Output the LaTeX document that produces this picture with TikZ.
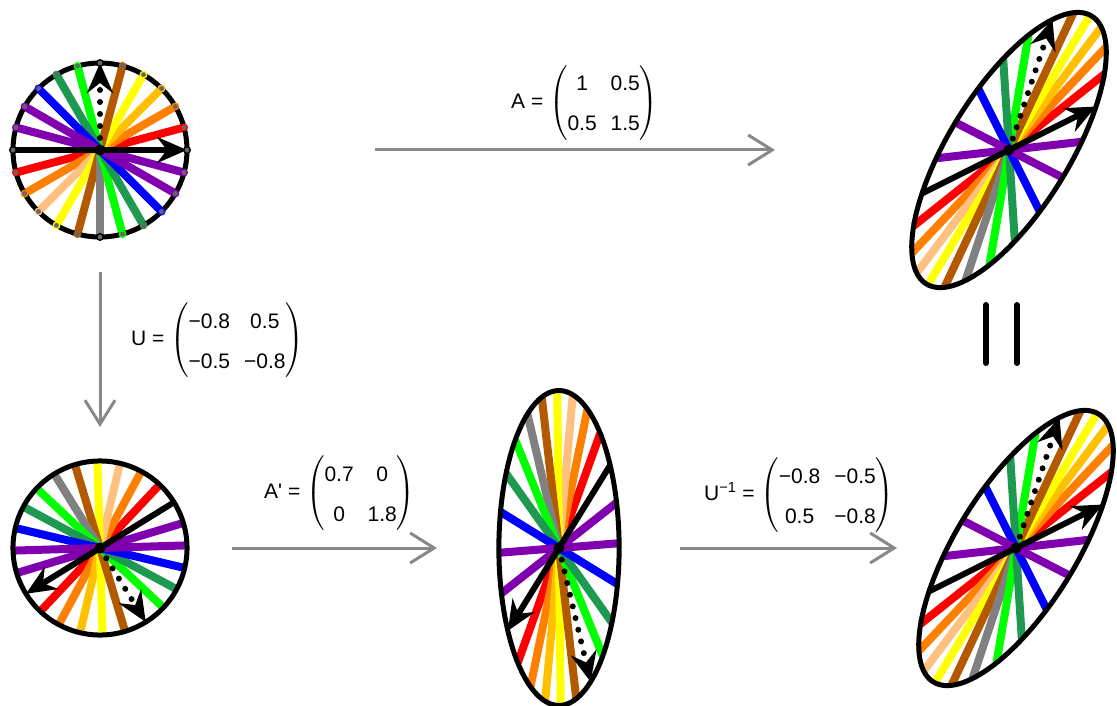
\documentclass[tikz,border=0pt]{standalone}
\usepackage{fontspec}
\setmainfont{Liberation Sans}
\usepackage{amsmath,amssymb}
\usepackage{xcolor}
\usepackage{tikz}
\usetikzlibrary{arrows.meta}
\definecolor{sred}{HTML}{FF0000}
\definecolor{sorange}{HTML}{FF7F00}
\definecolor{sgold}{HTML}{FFC000}
\definecolor{syellow}{HTML}{FFFF00}
\definecolor{sbrown}{HTML}{B35A00}
\definecolor{speach}{HTML}{FFC080}
\definecolor{sgray}{HTML}{808080}
\definecolor{slime}{HTML}{00FF00}
\definecolor{sdkgreen}{HTML}{1E9A50}
\definecolor{sblue}{HTML}{0000FF}
\definecolor{spurple}{HTML}{8000B0}
\definecolor{maparrowgray}{HTML}{888888}
\renewcommand{\arraystretch}{1.6}
\setlength{\tabcolsep}{7pt}

\begin{document}
\begin{tikzpicture}[x=1pt, y=1pt,
  every node/.style={font=\fontsize{21}{25}\selectfont, inner sep=0pt},
  maparrow/.style={maparrowgray, line width=3, -{Straight Barb[length=24pt,width=30pt]}},
  spoke/.style={line width=8},
  vecarrow/.style={line width=6, -{Stealth[length=30pt,width=26pt,inset=10pt]}}]
\useasboundingbox (0,0) rectangle (1117,-706);
\coordinate (orig) at (100,-150);
\coordinate (rot) at (100,-548);
\coordinate (stretch) at (559,-548);
\coordinate (full) at (1009,-150);
\coordinate (back) at (1016,-548);
\foreach \fig/\ma/\mb/\mc/\md in {orig/1/0/0/1, rot/-0.851/-0.526/0.526/-0.851,
    stretch/-0.588/-0.952/0.363/-1.539, full/1/0.5/0.5/1.5, back/1/0.5/0.5/1.5}{
  \begin{scope}[shift={(\fig)}, cm={\ma,\mb,\mc,\md,(0,0)}]
    \foreach \a/\c in {15/sred, 30/sorange, 45/sgold, 60/syellow, 75/sbrown,
        105/slime, 120/sdkgreen, 135/sblue, 150/spurple, 165/spurple,
        195/sred, 210/sorange, 225/speach, 240/syellow, 255/sbrown, 270/sgray,
        285/slime, 300/sdkgreen, 315/sblue, 330/spurple, 345/spurple}
      \draw[spoke, color=\c] (0,0) -- (\a:87);
    \draw[line width=5] (0,0) circle (87);
    \draw[vecarrow] (180:87) -- (0:87);
    \draw[vecarrow, line cap=round, dash pattern=on 0pt off 12pt] (0,0) -- (90:87);
    \node[circle, fill=black, minimum size=11pt] (\fig c) at (0,0) {};
  \end{scope}
}
\begin{scope}[shift={(orig)}]
  \foreach \a/\c in {0/black, 15/sred, 30/sorange, 45/sgold, 60/syellow, 75/sbrown,
      90/black, 105/slime, 120/sdkgreen, 135/sblue, 150/spurple, 165/spurple,
      180/black, 195/sred, 210/sorange, 225/speach, 240/syellow, 255/sbrown, 270/black,
      285/slime, 300/sdkgreen, 315/sblue, 330/spurple, 345/spurple}
    \filldraw[draw=\c, fill=gray!80!black, line width=1.3] (\a:87) circle (3.3);
\end{scope}
\node[anchor=west] (labA) at (511,-103) {A = $\left(\begin{tabular}{@{}cc@{}}1 & 0.5\\ 0.5 & 1.5\end{tabular}\right)$};
\node[anchor=west] (labU) at (131,-340) {U = $\left(\begin{tabular}{@{}cc@{}}−0.8 & 0.5\\ −0.5 & −0.8\end{tabular}\right)$};
\node[anchor=west] (labAp) at (264,-493) {A\textquotesingle{} = $\left(\begin{tabular}{@{}cc@{}}0.7 & 0\\ 0 & 1.8\end{tabular}\right)$};
\node[anchor=west] (labUi) at (704,-495) {U\textsuperscript{−1} = $\left(\begin{tabular}{@{}cc@{}}−0.8 & −0.5\\ 0.5 & −0.8\end{tabular}\right)$};
\draw[maparrow] ([xshift=275]orig) -- ([xshift=-234]full);
\draw[maparrow] ([yshift=-122]orig) -- ([yshift=121]rot);
\draw[maparrow] ([xshift=132]rot) -- ([xshift=-122]stretch);
\draw[maparrow] ([xshift=121]stretch) -- ([xshift=-119]back);
\draw[line width=6, line cap=round] (986,-305) -- (986,-363);
\draw[line width=6, line cap=round] (1017,-305) -- (1017,-363);
\end{tikzpicture}
\end{document}
